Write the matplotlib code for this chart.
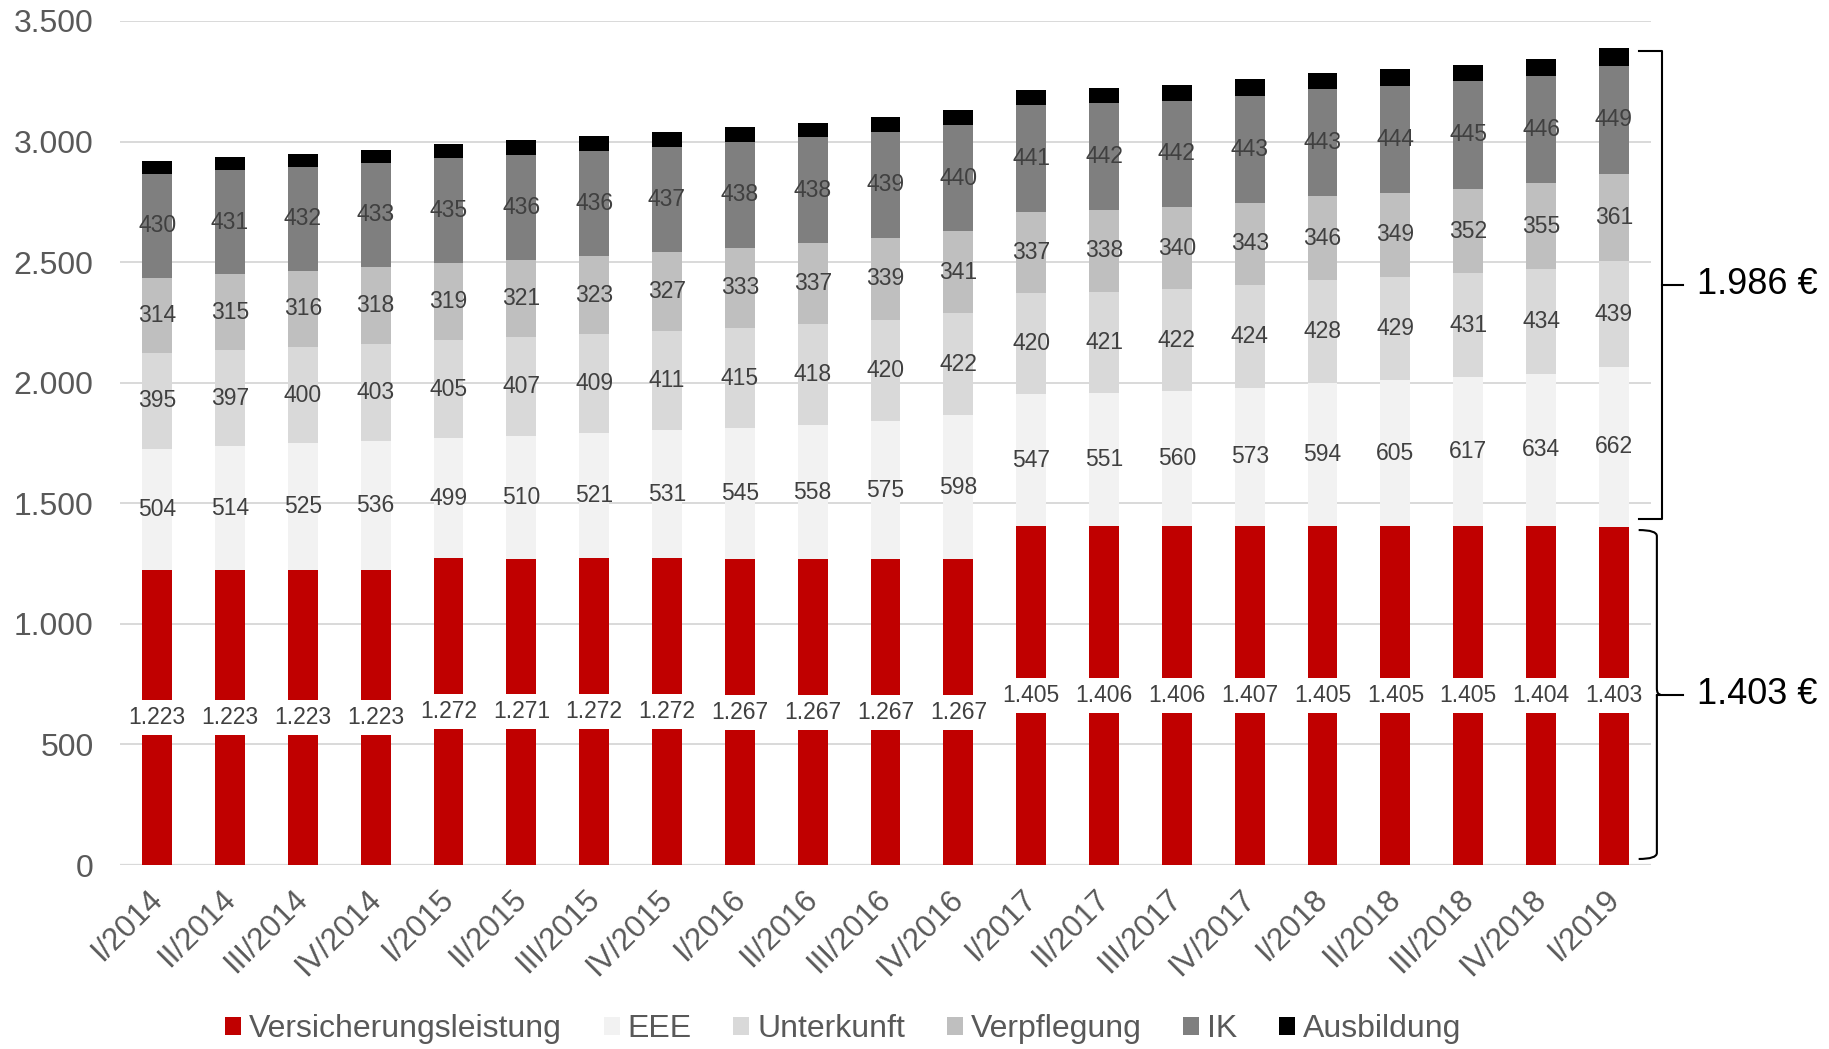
import matplotlib.pyplot as plt
import matplotlib.transforms as mtransforms
from matplotlib.path import Path
from matplotlib.patches import PathPatch
from matplotlib.ticker import FuncFormatter
import numpy as np

plt.rcParams['font.family'] = ['Liberation Sans', 'DejaVu Sans']

# Quartale und Kostenbestandteile (EUR)
quartale = ['I/2014', 'II/2014', 'III/2014', 'IV/2014',
            'I/2015', 'II/2015', 'III/2015', 'IV/2015',
            'I/2016', 'II/2016', 'III/2016', 'IV/2016',
            'I/2017', 'II/2017', 'III/2017', 'IV/2017',
            'I/2018', 'II/2018', 'III/2018', 'IV/2018', 'I/2019']
versicherung = [1223, 1223, 1223, 1223, 1272, 1271, 1272, 1272, 1267, 1267, 1267,
                1267, 1405, 1406, 1406, 1407, 1405, 1405, 1405, 1404, 1403]
eee = [504, 514, 525, 536, 499, 510, 521, 531, 545, 558, 575,
       598, 547, 551, 560, 573, 594, 605, 617, 634, 662]
unterkunft = [395, 397, 400, 403, 405, 407, 409, 411, 415, 418, 420,
              422, 420, 421, 422, 424, 428, 429, 431, 434, 439]
verpflegung = [314, 315, 316, 318, 319, 321, 323, 327, 333, 337, 339,
               341, 337, 338, 340, 343, 346, 349, 352, 355, 361]
ik = [430, 431, 432, 433, 435, 436, 436, 437, 438, 438, 439,
      440, 441, 442, 442, 443, 443, 444, 445, 446, 449]
ausbildung = [54, 54, 53, 54, 60, 62, 61, 61, 61, 61, 63,
              64, 64, 66, 66, 68, 67, 67, 68, 70, 75]

namen = ['Versicherungsleistung', 'EEE', 'Unterkunft', 'Verpflegung', 'IK', 'Ausbildung']
farben = ['#C00000', '#F2F2F2', '#D9D9D9', '#BFBFBF', '#7F7F7F', '#000000']
reihen = [versicherung, eee, unterkunft, verpflegung, ik, ausbildung]


def de(v):
    return f'{int(v):,}'.replace(',', '.')


fig = plt.figure(figsize=(18.29, 10.49), dpi=100)
ax = fig.add_axes([0.0656, 0.1754, 0.8371, 0.8046])

x = np.arange(len(quartale))
unten = np.zeros(len(quartale))
for name, farbe, werte in zip(namen, farben, reihen):
    werte = np.array(werte, dtype=float)
    ax.bar(x, werte, bottom=unten, width=0.41, color=farbe, label=name, zorder=2)
    if name != 'Ausbildung':
        for xi, b, w in zip(x, unten, werte):
            if name == 'Versicherungsleistung':
                t = ax.text(xi, b + w / 2, de(w), ha='center', va='center', fontsize=16.5,
                            color='#404040', zorder=4,
                            bbox=dict(boxstyle='square,pad=0.26', fc='white', ec='none'))
            else:
                ax.text(xi, b + w / 2, de(w), ha='center', va='center', fontsize=16.5,
                        color='#404040', zorder=4)
    unten += werte

ax.set_xlim(-0.51, len(quartale) - 0.49)
ax.set_ylim(0, 3500)
ax.set_yticks(range(0, 3501, 500))
ax.yaxis.set_major_formatter(FuncFormatter(lambda v, p: de(v)))
ax.grid(axis='y', color='#D9D9D9', linewidth=1.4, zorder=0)
for s in ax.spines.values():
    s.set_visible(False)
ax.axhline(0, color='#D9D9D9', linewidth=1.6, zorder=1)
ax.tick_params(axis='both', length=0, colors='#595959')
ax.tick_params(axis='y', pad=19, labelsize=23)

ax.set_xticks(x)
ax.set_xticklabels(quartale, rotation=45, ha='right', va='top', rotation_mode='anchor',
                   fontsize=22.5)
ax.tick_params(axis='x', pad=14)
verschiebung = mtransforms.ScaledTranslation(-10 / 100, 0, fig.dpi_scale_trans)
for lbl in ax.get_xticklabels():
    lbl.set_transform(lbl.get_transform() + verschiebung)

# Klammern rechts neben dem letzten Quartal
gesamt = unten[-1]
rot = versicherung[-1]
oben_summe = gesamt - rot
xl, xv, xt = 20.34, 20.66, 20.95
lo, hi = rot + 32, gesamt - 12
mid = (lo + hi) / 2
ax.plot([xl, xv, xv, xl], [hi, hi, lo, lo], color='black', lw=1.5, clip_on=False)
ax.plot([xv, xt], [mid, mid], color='black', lw=1.5, clip_on=False)
ax.text(21.14, mid, f'{de(oben_summe)} €', fontsize=26, va='center', ha='left')

lo2, hi2 = 25, rot - 14
mid2 = (lo2 + hi2) / 2
xv2 = 20.59
r = 25
pfad = Path([(xl, hi2), (xv2, hi2), (xv2, hi2 - r), (xv2, mid2 + r), (xv2, mid2),
             (xv2 + 0.05, mid2), (xv2, mid2), (xv2, mid2 - r), (xv2, lo2 + r),
             (xv2, lo2), (xl, lo2)],
            [Path.MOVETO, Path.CURVE3, Path.CURVE3, Path.LINETO, Path.CURVE3,
             Path.CURVE3, Path.MOVETO, Path.LINETO, Path.LINETO, Path.CURVE3, Path.CURVE3])
ax.add_patch(PathPatch(pfad, fc='none', ec='black', lw=1.5, clip_on=False))
ax.plot([xv2, xt], [mid2, mid2], color='black', lw=1.5, clip_on=False)
ax.text(21.14, mid2, f'{de(rot)} €', fontsize=26, va='center', ha='left')

leg = fig.legend(loc='center', bbox_to_anchor=(0.461, 0.019), ncol=6, frameon=False,
                 fontsize=23, handlelength=0.5, handleheight=0.5, handletextpad=0.25,
                 columnspacing=1.3)
for t in leg.get_texts():
    t.set_color('#595959')

fig.savefig('out.png', dpi=100)
